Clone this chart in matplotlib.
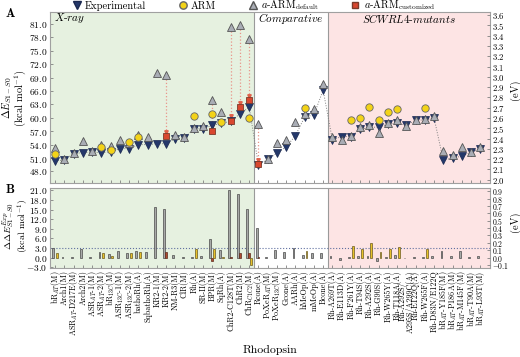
import numpy as np
import matplotlib.pyplot as plt
from matplotlib.lines import Line2D

plt.rcParams['font.family'] = 'serif'
plt.rcParams['font.serif'] = ['cmr10']
plt.rcParams['mathtext.fontset'] = 'cm'
plt.rcParams['axes.unicode_minus'] = False

KCAL_PER_EV = 23.06

rhodopsins = [
    r'bR$_{AT}$(M)', 'Arch1(M)', r'ASR$_{AT}$-D217E(M)', 'Arch2(M)',
    r'ASR$_{AT}$-1(M)', r'ASR$_{AT}$-2(M)', r'bR$_{13C}$(M)', r'ASR$_{13C}$-1(M)',
    r'ASR$_{13C}$-2(M)', 'bathoRh(A)', 'SqbathoRh(A)', 'KR2-1(M)', 'KR2-2(M)',
    'NM-R3(M)', 'ClR(M)', 'Rh(A)', 'SR-II(M)', 'BPR(M)', 'SqRh(A)',
    'ChR2-C128T(M)', 'ChR2(M)', r'ChR$_{C1C2}$(M)',
    'Rcone(A)', r'PoXeR$_{AT}$(M)', r'PoXeR$_{13C}$(M)', 'Gcone(A)', 'AARh(A)',
    'hMeOp(A)', 'mMeOp(A)', 'Bcone(A)',
    'Rh-A269T(A)', 'Rh-E113D(A)', 'Rh-F261Y(A)', 'Rh-T94S(A)', 'Rh-A292S(A)',
    'Rh-G90S(A)', 'Rh-W265Y(A)', 'Rh-T118A(A)', 'Rh-A292S/\nA295S/A299C(A)',
    'Rh-E122Q(A)', 'Rh-W265F(A)', 'Rh-D83N/E122Q',
    r'bR$_{AT}$-Y185F(M)', r'bR$_{AT}$-P186A(M)', r'bR$_{AT}$-M145F(M)',
    r'bR$_{AT}$-T90A(M)', r'bR$_{AT}$-L93T(M)',
]

nan = np.nan
# excitation energies, kcal/mol
experimental = np.array([
    50.4, 50.5, 52.0, 52.2, 52.3, 52.2, 52.4, 53.1, 53.1, 54.0, 54.0, 54.2, 54.2,
    55.3, 55.5, 57.5, 57.6, 58.3, 58.8, 59.2, 60.9, 62.4,
    49.5, 50.7, 52.1, 53.5, 56.0, 60.2, 60.65, 66.2,
    55.1, 55.8, 55.8, 57.4, 57.9, 57.9, 58.6, 58.8, 58.3, 59.5, 59.5, 60.0,
    50.5, 51.0, 51.4, 52.35, 53.0])
arm = np.array([
    51.8, nan, nan, nan, nan, 53.5, 52.9, nan, 54.6, 55.7, nan, nan, nan,
    nan, nan, 60.3, nan, 60.9, 59.0, nan, nan, 60.0,
    nan, nan, nan, nan, nan, 62.3, nan, nan,
    nan, nan, 59.5, 60.0, 62.5, 59.5, 61.3, 62.0, nan, nan, 62.3, nan,
    nan, nan, nan, nan, nan])
aarm_default = np.array([
    53.3, 50.8, 52.1, 54.8, 52.6, 54.0, 53.6, 55.1, 54.4, 56.2, 55.8, 70.1, 69.5,
    56.2, 55.6, 57.7, 58.2, 64.0, 61.2, 80.4, 80.8, 77.6,
    58.6, 50.8, 54.4, 55.1, 59.0, 60.9, 62.0, 67.6,
    55.6, 55.1, 56.0, 57.9, 58.3, 56.7, 58.8, 59.5, 58.1, 59.6, 59.7, 60.4,
    52.6, 51.65, 53.5, 52.45, 53.5])
aarm_custom = np.array([
    nan, nan, nan, nan, nan, nan, nan, nan, nan, nan, nan, nan, 55.9,
    nan, nan, nan, nan, 57.1, nan, 59.4, 62.4, 63.9,
    49.6, nan, nan, nan, nan, nan, nan, nan,
    nan, nan, nan, nan, nan, nan, nan, nan, nan, nan, nan, nan,
    nan, nan, nan, nan, nan])

group_edges = [21.5, 29.5]

c_exp = '#24386a'
c_arm = '#f3d318'
c_def = '#a9adb5'
c_cus = '#d9472f'
c_green = '#e6f1e0'
c_pink = '#fde4e4'

x = np.arange(len(rhodopsins))
xlo, xhi = -0.55, 47.0

fig = plt.figure(figsize=(5.2, 3.57), dpi=100)
W, H = 520, 357
axA = fig.add_axes([50 / W, 1 - 183 / H, 439.5 / W, (183 - 12.5) / H])
axB = fig.add_axes([50 / W, 1 - 267.5 / H, 439.5 / W, (267.5 - 187.5) / H], sharex=axA)

for ax in (axA, axB):
    ax.axvspan(xlo, group_edges[0], color=c_green, lw=0, zorder=0)
    ax.axvspan(group_edges[1], xhi, color=c_pink, lw=0, zorder=0)
    for e in group_edges:
        ax.axvline(e, color='#9a9a9a', lw=0.8, zorder=1)
    for s in ax.spines.values():
        s.set_color('#a0a0a0')
        s.set_linewidth(0.8)
    ax.tick_params(direction='in', length=2.5, width=0.6, color='#808080',
                   labelsize=6.8, pad=2)

# ---- panel A
axA.plot(x, experimental, ls=':', color='#808080', lw=0.7, zorder=2)
for i in x:
    if not np.isnan(aarm_custom[i]):
        axA.plot([i, i], [aarm_default[i] - 0.9, aarm_custom[i] + 1.0], ls=':',
                 color='#e8958a', lw=0.9, zorder=2)
        axA.plot(i, aarm_custom[i] + 1.0, marker='v', color='#e0604a', ms=2.5,
                 zorder=2)
axA.plot(x, experimental, 'v', color=c_exp, mec='#1a2850', mew=0.5, ms=5.5,
         ls='none', zorder=3)
axA.plot(x, aarm_default, '^', color=c_def, mec='#555555', mew=0.6, ms=5.5,
         ls='none', zorder=4)
axA.plot(x, arm, 'o', color=c_arm, mec='#666666', mew=0.6, ms=5.3,
         ls='none', zorder=5)
axA.plot(x, aarm_custom, 's', color=c_cus, mec='#7a3a2a', mew=0.6, ms=4.5,
         ls='none', zorder=6)

ylimA = (45.4, 83.6)
axA.set_xlim(xlo, xhi)
axA.set_ylim(*ylimA)
ticksA = np.arange(48, 82, 3)
axA.set_yticks(ticksA)
axA.set_yticklabels([f'${v:.1f}$' for v in ticksA])
axA.set_xticks(x)
axA.tick_params(axis='x', labelbottom=False)

axA2 = axA.twinx()
axA2.set_ylim(ylimA[0] / KCAL_PER_EV, ylimA[1] / KCAL_PER_EV)
ticksA2 = np.round(np.arange(2.0, 3.61, 0.1), 1)
axA2.set_yticks(ticksA2)
axA2.set_yticklabels([f'${v:.1f}$' for v in ticksA2])
axA2.tick_params(direction='in', length=2.5, width=0.6, color='#808080',
                 labelsize=6.3, pad=2)
for s in axA2.spines.values():
    s.set_visible(False)

trA = axA.get_xaxis_transform()
axA.text(-0.1, 0.965, r'$\mathit{X}$-$\mathit{ray}$', transform=trA,
         fontsize=8, va='center', ha='left')
axA.text(25.5, 0.965, r'$\mathit{Comparative}$', transform=trA,
         fontsize=8, va='center', ha='center')
axA.text(38.3, 0.965, r'$\mathit{SCWRL4}$-$\mathit{mutants}$', transform=trA,
         fontsize=8, va='center', ha='center')

# ---- panel B
d_def = aarm_default - experimental
d_cus = aarm_custom - experimental
d_arm = arm - experimental
bw = 0.2
axB.bar(x - 0.2, d_def, bw, color='#a8aaa8', edgecolor='#4a4a4a', lw=0.5, zorder=3)
has_cus = ~np.isnan(d_cus)
axB.bar(x[has_cus], d_cus[has_cus], bw, color='#b04a30', edgecolor='#5a2a1a',
        lw=0.5, zorder=3)
has_arm = ~np.isnan(d_arm)
axB.bar(x[has_arm] + 0.2, d_arm[has_arm], bw, color='#e8c22a', edgecolor='#6a5a20',
        lw=0.5, zorder=3)
axB.axhline(3.1, color='#6070a0', ls=':', lw=0.8, zorder=2)

ylimB = (-3.1, 21.9)
axB.set_ylim(*ylimB)
ticksB = np.arange(-3, 22, 3)
axB.set_yticks(ticksB)
axB.set_yticklabels([f'${v:.1f}$' for v in ticksB])
axB.set_xticks(x)
axB.set_xticklabels(rhodopsins, rotation=90, fontsize=5.8, linespacing=0.8)
axB.set_xlim(xlo, xhi)

axB2 = axB.twinx()
axB2.set_ylim(ylimB[0] / KCAL_PER_EV, ylimB[1] / KCAL_PER_EV)
ticksB2 = np.round(np.arange(-0.1, 0.91, 0.1), 1)
axB2.set_yticks(ticksB2)
axB2.set_yticklabels([f'${v:.1f}$' for v in ticksB2])
axB2.tick_params(direction='in', length=2.5, width=0.6, color='#808080',
                 labelsize=5.5, pad=2)
for s in axB2.spines.values():
    s.set_visible(False)

# ---- labels
fig.text(6 / W, 1 - 14 / H, 'A', fontsize=9, family='cmb10', va='center')
fig.text(6 / W, 1 - 190 / H, 'B', fontsize=9, family='cmb10', va='center')
fig.text(14 / W, 1 - 98 / H, r'$\Delta E_{S1-S0}$' + '\n' + r'(kcal mol$^{-1}$)',
         rotation=90, ha='center', va='center', fontsize=7.5, linespacing=0.85)
fig.text(16 / W, 1 - 226 / H,
         r'$\Delta\Delta E_{S1-S0}^{Exp}$' + '\n' + r'(kcal mol$^{-1}$)',
         rotation=90, ha='center', va='center', fontsize=7, linespacing=0.85)
fig.text(515 / W, 1 - 90 / H, '(eV)', rotation=90, ha='center', va='center',
         fontsize=7.5)
fig.text(515 / W, 1 - 222 / H, '(eV)', rotation=90, ha='center', va='center',
         fontsize=7.5)
fig.text(270 / W, 1 - 350 / H, 'Rhodopsin', ha='center', va='center', fontsize=8.5)

handles = [
    Line2D([], [], marker='v', ls='none', color=c_exp, mec='#1a2850', ms=5.5),
    Line2D([], [], marker='o', ls='none', color=c_arm, mec='#666666', ms=5.3),
    Line2D([], [], marker='^', ls='none', color=c_def, mec='#555555', ms=5.5),
    Line2D([], [], marker='s', ls='none', color=c_cus, mec='#7a3a2a', ms=4.5),
]
labels = ['Experimental', 'ARM', r'$a$-ARM$_{\rm default}$',
          r'$a$-ARM$_{\rm customized}$']
fig.legend(handles, labels, loc='center', bbox_to_anchor=(0.487, 1 - 5.5 / H),
           ncol=4, frameon=False, fontsize=7.5, handletextpad=0.3,
           columnspacing=3.0, handlelength=1.0, borderaxespad=0, borderpad=0)

fig.savefig('out.png', dpi=100)
